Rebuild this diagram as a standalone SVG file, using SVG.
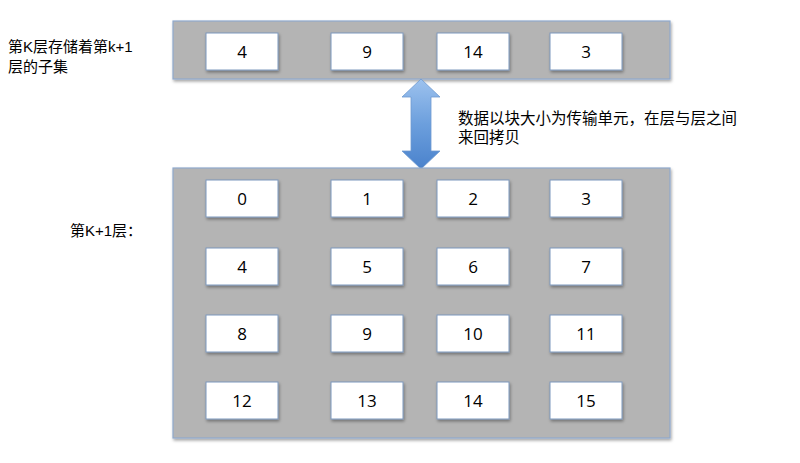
<svg xmlns="http://www.w3.org/2000/svg" width="800" height="463" viewBox="0 0 800 463">
<defs>
<filter id="sh" x="-10%" y="-10%" width="130%" height="140%">
<feDropShadow dx="1" dy="2" stdDeviation="1.5" flood-color="#000" flood-opacity="0.35"/>
</filter>
<linearGradient id="ag" x1="0" y1="0" x2="0" y2="1">
<stop offset="0" stop-color="#9dc2ee"/>
<stop offset="0.5" stop-color="#6c9fdd"/>
<stop offset="1" stop-color="#4a82cc"/>
</linearGradient>
<style>
.panel{fill:#b4b4b4;stroke:#8fa9cc;stroke-width:1.2;filter:url(#sh)}
.box{fill:#fff;stroke:#7d98bd;stroke-width:1;filter:url(#sh)}
.num{font-family:"Open Sans","Liberation Sans",sans-serif;font-size:17px;fill:#000;text-anchor:middle}
.lbl{font-family:"Liberation Sans","Noto Sans CJK SC",sans-serif;font-size:15px;fill:#000}
.note{font-family:"Liberation Sans","Noto Sans CJK SC",sans-serif;font-size:15.5px;fill:#000}
</style>
</defs>
<rect width="800" height="463" fill="#fff"/>
<g id="labels">
<text class="lbl" x="8" y="52">第K层存储着第k+1</text>
<text class="lbl" x="8" y="72">层的子集</text>
<text class="lbl" x="70" y="236">第K+1层：</text>
<text class="note" x="458" y="123.5">数据以块大小为传输单元，在层与层之间</text>
<text class="note" x="458" y="142.5">来回拷贝</text>
</g>
<g id="layerK">
<rect class="panel" x="173" y="21" width="497" height="58"/>
<g id="k4"><rect class="box" x="206" y="33" width="72" height="37"/><text class="num" x="242" y="57.5">4</text></g>
<g id="k9"><rect class="box" x="331" y="33" width="72" height="37"/><text class="num" x="367" y="57.5">9</text></g>
<g id="k14"><rect class="box" x="437" y="33" width="72" height="37"/><text class="num" x="473" y="57.5">14</text></g>
<g id="k3"><rect class="box" x="550" y="33" width="72" height="37"/><text class="num" x="586" y="57.5">3</text></g>
</g>
<g id="connectors">
<path d="M421,79 L440,97 L431,97 L431,151 L440,151 L421,169 L402,151 L411,151 L411,97 L402,97 Z" fill="url(#ag)" stroke="#6f9ad0" stroke-width="0.8"/>
</g>
<g id="layerK1">
<rect class="panel" x="173" y="168" width="497" height="270"/>
<g id="b0"><rect class="box" x="206" y="180" width="72" height="37"/><text class="num" x="242" y="204.5">0</text></g>
<g id="b1"><rect class="box" x="331" y="180" width="72" height="37"/><text class="num" x="367" y="204.5">1</text></g>
<g id="b2"><rect class="box" x="437" y="180" width="72" height="37"/><text class="num" x="473" y="204.5">2</text></g>
<g id="b3"><rect class="box" x="550" y="180" width="72" height="37"/><text class="num" x="586" y="204.5">3</text></g>
<g id="b4"><rect class="box" x="206" y="248" width="72" height="37"/><text class="num" x="242" y="272.5">4</text></g>
<g id="b5"><rect class="box" x="331" y="248" width="72" height="37"/><text class="num" x="367" y="272.5">5</text></g>
<g id="b6"><rect class="box" x="437" y="248" width="72" height="37"/><text class="num" x="473" y="272.5">6</text></g>
<g id="b7"><rect class="box" x="550" y="248" width="72" height="37"/><text class="num" x="586" y="272.5">7</text></g>
<g id="b8"><rect class="box" x="206" y="315" width="72" height="37"/><text class="num" x="242" y="339.5">8</text></g>
<g id="b9"><rect class="box" x="331" y="315" width="72" height="37"/><text class="num" x="367" y="339.5">9</text></g>
<g id="b10"><rect class="box" x="437" y="315" width="72" height="37"/><text class="num" x="473" y="339.5">10</text></g>
<g id="b11"><rect class="box" x="550" y="315" width="72" height="37"/><text class="num" x="586" y="339.5">11</text></g>
<g id="b12"><rect class="box" x="206" y="382" width="72" height="37"/><text class="num" x="242" y="406.5">12</text></g>
<g id="b13"><rect class="box" x="331" y="382" width="72" height="37"/><text class="num" x="367" y="406.5">13</text></g>
<g id="b14"><rect class="box" x="437" y="382" width="72" height="37"/><text class="num" x="473" y="406.5">14</text></g>
<g id="b15"><rect class="box" x="550" y="382" width="72" height="37"/><text class="num" x="586" y="406.5">15</text></g>
</g>
</svg>
